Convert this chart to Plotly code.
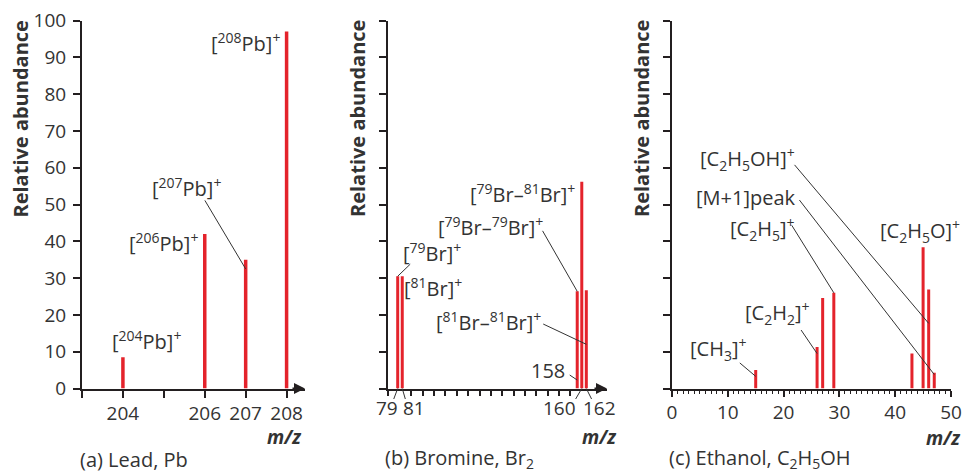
import plotly.graph_objects as go

# ---------------- data ----------------
lead_mz = [204, 206, 207, 208]
lead_ab = [8.5, 42, 35, 97]
lead_tickvals = [203, 204, 205, 206, 207, 208]
lead_ticktext = ["", "204", "", "206", "207", "208"]
lead_labels = ["[<sup>204</sup>Pb]<sup>+</sup>", "[<sup>206</sup>Pb]<sup>+</sup>",
               "[<sup>207</sup>Pb]<sup>+</sup>", "[<sup>208</sup>Pb]<sup>+</sup>"]

br_mz = [79, 81, 158, 160, 162]
br_ab = [30.5, 30.5, 26.4, 56.2, 26.7]
br_minor_ticks = [85, 90, 95, 100, 105, 110, 115, 120, 125, 130, 135, 140, 145, 150, 155]
br_tick_labels = ["79", "81", "160", "162"]
br_labels = ["[<sup>79</sup>Br]<sup>+</sup>", "[<sup>81</sup>Br]<sup>+</sup>",
             "[<sup>79</sup>Br\u2013<sup>79</sup>Br]<sup>+</sup>",
             "[<sup>79</sup>Br\u2013<sup>81</sup>Br]<sup>+</sup>",
             "[<sup>81</sup>Br\u2013<sup>81</sup>Br]<sup>+</sup>", "158"]

eth_mz = [15, 26, 27, 29, 43, 45, 46, 47]
eth_ab = [5.0, 11.3, 24.6, 26.0, 9.5, 38.4, 26.9, 4.3]
eth_tickvals = [0, 10, 20, 30, 40, 50]
eth_labels = ["[CH<sub>3</sub>]<sup>+</sup>", "[C<sub>2</sub>H<sub>2</sub>]<sup>+</sup>",
              "[C<sub>2</sub>H<sub>5</sub>]<sup>+</sup>", "[M+1]peak",
              "[C<sub>2</sub>H<sub>5</sub>OH]<sup>+</sup>", "[C<sub>2</sub>H<sub>5</sub>O]<sup>+</sup>"]

y_ticks = [0, 10, 20, 30, 40, 50, 60, 70, 80, 90, 100]
y_title = "Relative abundance"
captions = ["(a) Lead, Pb", "(b) Bromine, Br<sub>2</sub>", "(c) Ethanol, C<sub>2</sub>H<sub>5</sub>OH"]

# ---------------- style ----------------
W, H = 963, 475
RED = "#e4232b"
AX = "#231f20"
TXT = "#333333"
FONT = "Open Sans"
FS = 19
LFS = 20

def fx(px):
    return px / W

def fy(py):
    return 1 - py / H

Y_DOM = [fy(388.5), fy(20.5)]

fig = go.Figure()
fig.add_trace(go.Bar(x=lead_mz, y=lead_ab, width=3.5 / 40.9, marker=dict(color=RED, line=dict(width=0)),
                     xaxis="x", yaxis="y"))
fig.add_trace(go.Bar(x=br_mz, y=br_ab, width=3.0 / 2.272, marker=dict(color=RED, line=dict(width=0)),
                     xaxis="x2", yaxis="y2"))
fig.add_trace(go.Bar(x=eth_mz, y=eth_ab, width=3.0 / 5.58, marker=dict(color=RED, line=dict(width=0)),
                     xaxis="x3", yaxis="y3"))

common_ax = dict(showline=True, linecolor=AX, linewidth=2, ticks="outside", tickcolor=AX, tickwidth=1.5,
                 showgrid=False, zeroline=False, automargin=False, fixedrange=True,
                 tickfont=dict(family=FONT, size=FS, color=TXT))

a_range = [203, 208.45]
b_range = [74.73, 171.1]
c_range = [0, 50]

layout = dict(
    width=W, height=H, margin=dict(l=0, r=0, t=0, b=0),
    paper_bgcolor="white", plot_bgcolor="white", showlegend=False,
    font=dict(family=FONT, size=FS, color=TXT),
    xaxis=dict(common_ax, domain=[fx(82), fx(305)], range=a_range, anchor="y",
               tickmode="array", tickvals=lead_tickvals, ticktext=lead_ticktext, ticklen=7),
    yaxis=dict(common_ax, domain=Y_DOM, range=[0, 100], anchor="x",
               tickmode="array", tickvals=y_ticks, ticklen=7, ticklabelstandoff=3),
    xaxis2=dict(common_ax, domain=[fx(388), fx(607)], range=b_range, anchor="y2",
                tickmode="array", tickvals=[b_range[0]] + br_minor_ticks, showticklabels=False, ticklen=5),
    yaxis2=dict(common_ax, domain=Y_DOM, range=[0, 100], anchor="x2",
                tickmode="array", tickvals=y_ticks, ticklen=7, showticklabels=False),
    xaxis3=dict(common_ax, domain=[fx(672), fx(951)], range=c_range, anchor="y3",
                tickmode="array", tickvals=eth_tickvals, ticklen=6,
                minor=dict(dtick=1, ticklen=3, ticks="outside", tickcolor=AX, tickwidth=1)),
    yaxis3=dict(common_ax, domain=Y_DOM, range=[0, 100], anchor="x3",
                tickmode="array", tickvals=y_ticks, ticklen=7, showticklabels=False),
)
fig.update_layout(**layout)

ann = []

def text(s, px, py, xanchor="center", yanchor="middle", size=LFS, angle=0):
    ann.append(dict(text=s, x=fx(px), y=fy(py), xref="paper", yref="paper", showarrow=False,
                    xanchor=xanchor, yanchor=yanchor, textangle=angle,
                    font=dict(family=FONT, size=size, color=TXT)))

def leader(xr, yr, x, y, dx, dy, width=1, color=TXT):
    ann.append(dict(text="", x=x, y=y, xref=xr, yref=yr, ax=dx, ay=dy, showarrow=True,
                    arrowhead=0, arrowwidth=width, arrowcolor=color, standoff=0, startstandoff=0))

def axis_arrow(xr, yr, x):
    ann.append(dict(text="", x=x, y=0, xref=xr, yref=yr, ax=-14, ay=0, showarrow=True,
                    arrowhead=2, arrowsize=1.1, arrowwidth=2, arrowcolor=AX, standoff=0))

# y titles
for cx in (19.5, 357, 641):
    text("<b>" + y_title + "</b>", cx, 119, size=20, angle=-90)

# m/z labels
for rx, cy in ((303, 437), (618, 437), (962, 438)):
    text("<b><i>m/z</i></b>", rx, cy, xanchor="right", size=FS)

# captions
for s, lx, cy in zip(captions, (78, 383, 667), (459, 458, 458)):
    text(s, lx, cy, xanchor="left", yanchor="middle", size=20)

# axis arrows
axis_arrow("x", "y", a_range[1])
axis_arrow("x2", "y2", b_range[1])

# ---- panel (a) labels ----
for s, (px, py) in zip(lead_labels, [(146, 340), (163, 243), (186, 187), (246, 42)]):
    text(s, px, py)
leader("x", "y", lead_mz[2], 32.5, -41.7, -70)

# ---- panel (b) ----
for s, px in zip(br_tick_labels, (386.7, 414.3, 559.3, 599.3)):
    text(s, px, 408, size=FS)
for xv, dx in zip((79, 81, 160, 162), (-4.5, 3.5, -7, 6)):
    leader("x2", "y2", xv, 0, dx, 12)
for s, (px, py) in zip(br_labels, [(432, 252), (433, 287), (490, 226), (522, 193), (489, 321), (548, 370)]):
    text(s, px, py)
leader("x2", "y2", br_mz[0], br_ab[0], 14, -13.5)
leader("x2", "y2", br_mz[2], br_ab[2], -35.5, -62)
leader("x2", "y2", br_mz[4], 12, -44.6, -21)
leader("x2", "y2", br_mz[2], 2.3, -9, -6)

# ---- panel (c) ----
for s, (px, py) in zip(eth_labels, [(718, 349), (777, 313), (762, 229), (746, 197), (747, 159), (920, 231)]):
    text(s, px, py)
leader("x3", "y3", 15, 3.3, -17.4, -14.7)
leader("x3", "y3", 26, 9.5, -17, -25)
leader("x3", "y3", 29, 26, -43, -69)
leader("x3", "y3", 47, 3.8, -136, -176)
leader("x3", "y3", 46, 17.7, -135.4, -160)

fig.update_layout(annotations=ann)
fig.write_html("out.html", config={"displayModeBar": False},
               post_script="document.body.style.margin='0px';document.body.style.padding='0px';"
                           "document.body.style.overflow='hidden';")
